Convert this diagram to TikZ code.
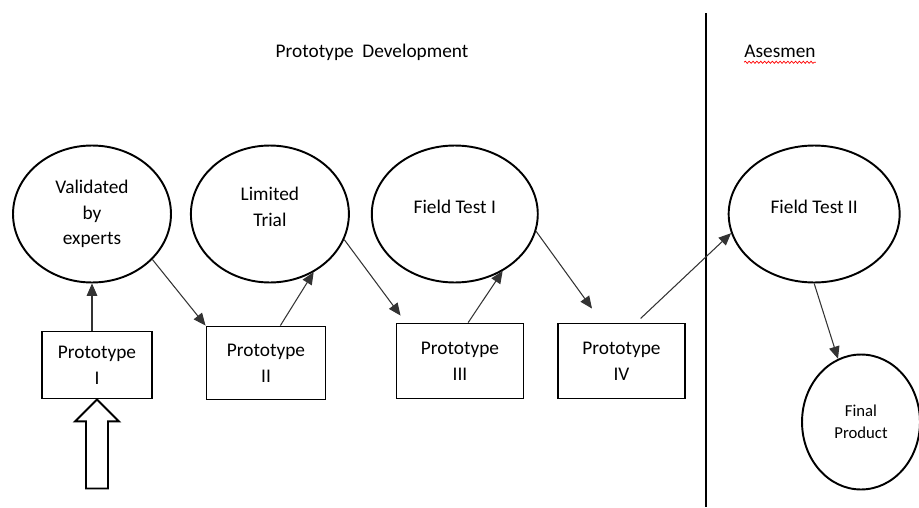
\documentclass[tikz,border=0pt]{standalone}
\usepackage{fontspec}
\setmainfont{Carlito}
\usetikzlibrary{positioning,shapes.geometric,arrows.meta,decorations.pathmorphing}

\begin{document}
\begin{tikzpicture}[x=0.02cm, y=-0.02cm, font=\fontsize{11}{14.7}\selectfont,
  oval/.style={draw, ellipse, line width=1.1pt, align=center, inner sep=0pt},
  proto/.style={draw, rectangle, line width=1.1pt, align=center, inner sep=0pt},
  link/.style={-{Triangle[length=7pt,width=6pt]}, line width=0.6pt, black!80},
  lbl/.style={align=center, yshift=4pt}]
\useasboundingbox (0,0) rectangle (919,507);

\node (title) [anchor=base] at (372,57) {Prototype\ \ Development};
\node (asm) [anchor=base, inner sep=0pt] at (780,57) {Asesmen};
\draw[red, line width=0.4pt, decorate, decoration={snake, amplitude=0.6pt, segment length=2.2pt}]
  ([yshift=-3pt]asm.base west) -- ([yshift=-3pt]asm.base east);
\draw[line width=0.6pt] (706,13) -- (706,507);

\node[oval, minimum width=3.16cm, minimum height=2.74cm] (e1) at (92,214) {Validated\\by\\experts};
\node[oval, minimum width=3.16cm, minimum height=2.74cm, right=0.36cm of e1,
  label={[lbl]center:Limited\\Trial}] (e2) {};
\node[oval, minimum width=3.32cm, minimum height=2.74cm, right=0.42cm of e2,
  label={[lbl]center:Field Test I}] (e3) {};
\node[oval, minimum width=3.42cm, minimum height=2.74cm, right=3.78cm of e3,
  label={[lbl]center:Field Test II}] (e4) {};
\node[oval, minimum width=2.36cm, minimum height=2.7cm, font=\fontsize{9.5}{12.5}\selectfont] (fin) at (861,422) {Final\\Product};

\node[proto, minimum width=2.2cm, minimum height=1.34cm] (p1) at (97,365) {Prototype\\I};
\node[proto, minimum width=2.38cm, minimum height=1.46cm] (p2) at (266,363) {Prototype\\II};
\node[proto, minimum width=2.54cm, minimum height=1.5cm] (p3) at (460,361) {Prototype\\III};
\node[proto, minimum width=2.54cm, minimum height=1.5cm] (p4) at (621.5,361) {Prototype\\IV};
\coordinate (p4in) at ([shift={(-29.5,-14)}]p4.north);

\draw[link] (p1.north -| e1) -- (e1.south);
\draw[link] (e1.-37) -- (p2.north west);
\draw[link] (p2.69) -- (e2.-53);
\draw[link] (e2.-19) -- ([shift={(5,-7)}]p3.north west);
\draw[link] (p3.78) -- (e3.-50);
\draw[link] (e3.-12) -- (p4in);
\draw[link, shorten <=0.12cm] (p4.69) -- (e4.193);
\draw[link] (e4.south) -- (fin.110);

\draw[line width=1.1pt] (p1.south) -- ++(22,22) -- ++(-11,0) -- ++(0,67)
  -- ++(-22,0) -- ++(0,-67) -- ++(-11,0) -- cycle;
\end{tikzpicture}
\end{document}
